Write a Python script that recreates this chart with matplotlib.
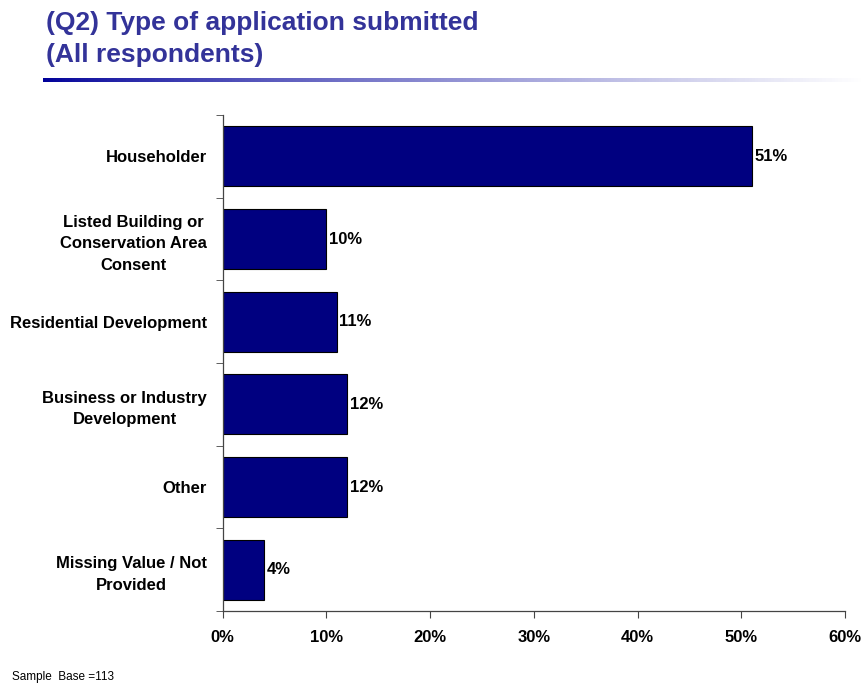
import numpy as np
import matplotlib.pyplot as plt
from matplotlib.ticker import FixedLocator, PercentFormatter

categories = [
    'Householder',
    'Listed Building or\nConservation Area\nConsent',
    'Residential Development',
    'Business or Industry\nDevelopment',
    'Other',
    'Missing Value / Not\nProvided',
]
values = [51, 10, 11, 12, 12, 4]
x_ticks = [0, 10, 20, 30, 40, 50, 60]

plt.rcParams['font.family'] = ['Liberation Sans', 'DejaVu Sans']

fig = plt.figure(figsize=(8.63, 6.91), dpi=100)
ax = fig.add_axes([222.5 / 863, 80 / 691, 622.5 / 863, 496 / 691])

pos = np.arange(len(categories))
ax.barh(pos, values, height=0.725, color='#000080', edgecolor='black', linewidth=0.8)
for p, v in zip(pos, values):
    ax.text(v + 0.25, p, f'{v}%', va='center', ha='left', fontsize=12, fontweight='bold')

ax.set_xlim(0, 60)
ax.set_ylim(len(categories) - 0.5, -0.5)
ax.set_xticks(x_ticks)
ax.xaxis.set_major_formatter(PercentFormatter(decimals=0))
ax.set_yticks(pos)
ax.set_yticklabels(categories, linespacing=1.55, multialignment='center', fontweight='bold')
ax.yaxis.set_minor_locator(FixedLocator(np.arange(-0.5, len(categories), 1)))
ax.tick_params(axis='y', which='major', length=0, pad=11, labelsize=12)
ax.tick_params(axis='y', which='minor', length=5, color='#444444')
ax.tick_params(axis='x', length=5, color='#444444', pad=9, labelsize=12)
for lbl in ax.get_xticklabels():
    lbl.set_fontweight('bold')

for s in ['top', 'right']:
    ax.spines[s].set_visible(False)
for s in ['left', 'bottom']:
    ax.spines[s].set_color('#444444')
    ax.spines[s].set_linewidth(0.9)

# title and fading rule underneath
title_kw = dict(ha='left', va='center', fontsize=19, fontweight='bold', color='#333399')
fig.text(46 / 863, 1 - 23 / 691, '(Q2) Type of application submitted', **title_kw)
fig.text(46 / 863, 1 - 55 / 691, '(All respondents)', **title_kw)

rule = fig.add_axes([43 / 863, 1 - 82 / 691, 1 - 43 / 863, 4 / 691])
grad = np.linspace(0, 1, 256)
base = np.array([0.0, 0.0, 0.6])
colors = base[None, :] * (1 - grad[:, None] ** 0.8) + grad[:, None] ** 0.8
rule.imshow(colors[None, :, :], aspect='auto', extent=[0, 1, 0, 1])
rule.set_axis_off()

fig.text(12 / 863, 1 - 677 / 691, 'Sample  Base =113', ha='left', va='center', fontsize=8.5)

fig.savefig('out.png', dpi=100)
